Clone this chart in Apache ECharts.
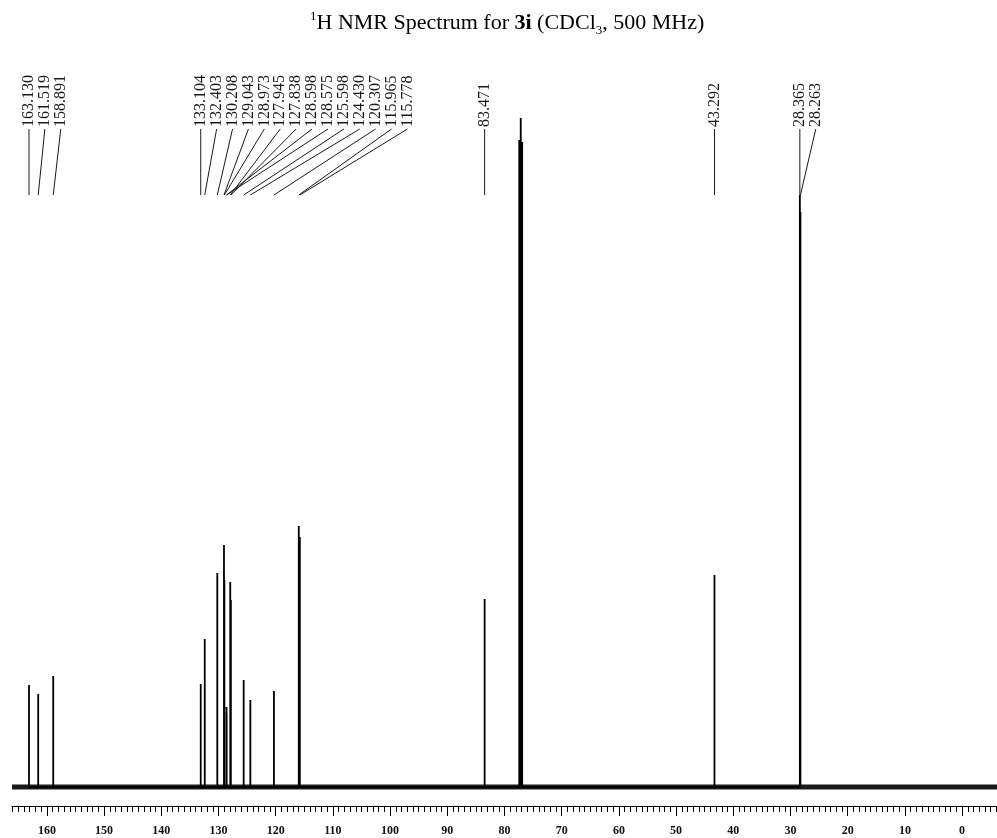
<!DOCTYPE html>
<html>
<head>
<meta charset="utf-8">
<script src="https://cdn.jsdelivr.net/npm/echarts@6/dist/echarts.min.js"></script>
<style>
html,body{margin:0;padding:0;background:#fff;}
#chart{width:997px;height:838px;}
</style>
</head>
<body>
<div id="chart"></div>
<script>
// Labelled peaks (ppm) in the order they are annotated, and their heights (arbitrary intensity)
const peakPpm = [163.130, 161.519, 158.891, 133.104, 132.403, 130.208, 129.043, 128.973,
  127.945, 127.838, 128.598, 128.575, 125.598, 124.430, 120.307, 115.965, 115.778,
  83.471, 43.292, 28.365, 28.263];
const peakHeight = [102, 93, 111, 103, 148, 214, 242, 207,
  205, 187, 80, 74, 107, 87, 96, 261, 250,
  188, 212, 592, 575];
const peakLabels = ['163.130', '161.519', '158.891', '133.104', '132.403', '130.208', '129.043', '128.973',
  '127.945', '127.838', '128.598', '128.575', '125.598', '124.430', '120.307', '115.965', '115.778',
  '83.471', '43.292', '28.365', '28.263'];
// Solvent (CDCl3) triplet, not annotated
const solventPpm = [77.42, 77.16, 76.91];
const solventHeight = [647, 669, 645];
// Axis ticks
const majorTicks = [0, 10, 20, 30, 40, 50, 60, 70, 80, 90, 100, 110, 120, 130, 140, 150, 160];
const xMin = -6.1, xMax = 166.1;

const minorTicks = [];
for (let v = -6; v <= 166; v++) minorTicks.push(v);

const allPeaks = peakPpm.map((p, i) => [p, peakHeight[i]])
  .concat(solventPpm.map((p, i) => [p, solventHeight[i]]))
  .sort((a, b) => b[0] - a[0]);
const peakData = [];
allPeaks.forEach(([p, h]) => { peakData.push([p, 0], [p, h], [p, 0]); });

const chart = echarts.init(document.getElementById('chart'));
const serif = '"Liberation Serif", "DejaVu Serif", serif';
chart.setOption({
  animation: false,
  backgroundColor: '#fff',
  title: {
    left: 305, top: 5,
    text: '{sup|1}H NMR Spectrum for {b|3i} (CDCl{sub|3}, 500 MHz)',
    textStyle: {
      fontFamily: serif, fontSize: 22, fontWeight: 'normal', color: '#000', lineHeight: 27,
      rich: {
        sup: { fontFamily: serif, fontSize: 13, lineHeight: 13, verticalAlign: 'top', color: '#000' },
        sub: { fontFamily: serif, fontSize: 13, lineHeight: 13, verticalAlign: 'bottom', color: '#000' },
        b: { fontFamily: serif, fontSize: 22, fontWeight: 'bold', color: '#000' }
      }
    }
  },
  grid: { left: 12, right: 0, top: 100, bottom: 32 },
  xAxis: [{
    type: 'value', min: xMin, max: xMax, inverse: true, position: 'bottom', offset: 0,
    splitLine: { show: false },
    axisLine: { show: true, onZero: false, lineStyle: { color: '#000', width: 1 } },
    axisTick: { show: true, customValues: majorTicks, length: 10, lineStyle: { color: '#000', width: 1 } },
    axisLabel: { show: true, customValues: majorTicks, margin: 19, fontFamily: serif, fontSize: 12, fontWeight: 'bold', color: '#111' }
  }, {
    type: 'value', min: xMin, max: xMax, inverse: true, position: 'bottom', offset: 0,
    splitLine: { show: false },
    axisLine: { show: false, onZero: false },
    axisTick: { show: true, customValues: minorTicks, length: 6, lineStyle: { color: '#000', width: 1 } },
    axisLabel: { show: false }
  }],
  yAxis: { type: 'value', min: -19, max: 687, show: false, splitLine: { show: false } },
  series: [{
    type: 'line', xAxisIndex: 0, data: [[xMax, 0], [xMin, 0]], symbol: 'none',
    lineStyle: { color: '#1a1a1a', width: 5 }, silent: true, z: 2
  }, {
    type: 'line', xAxisIndex: 0, data: peakData, symbol: 'none',
    lineStyle: { color: '#000', width: 1.8 }, silent: true, z: 3
  }]
});

// Peak annotations: labels laid out left to right with a minimum spacing
const spacing = 15.9;
const labelBottom = 127, leaderTop = 129, leaderBottom = 195;
const graphics = [];
let prev = -Infinity;
peakPpm.forEach((p, i) => {
  const px = chart.convertToPixel({ xAxisIndex: 0 }, p);
  const lx = Math.max(px, prev + spacing);
  prev = lx;
  graphics.push({
    type: 'text', x: lx, y: labelBottom, rotation: Math.PI / 2, silent: true,
    style: { text: peakLabels[i], fontFamily: serif, fontSize: 16, fill: '#1a1a1a', align: 'left', verticalAlign: 'middle' }
  });
  graphics.push({
    type: 'line', silent: true,
    shape: { x1: lx, y1: leaderTop, x2: px, y2: leaderBottom },
    style: { stroke: '#1a1a1a', lineWidth: 1 }
  });
});
chart.setOption({ graphic: graphics });
</script>
</body>
</html>
